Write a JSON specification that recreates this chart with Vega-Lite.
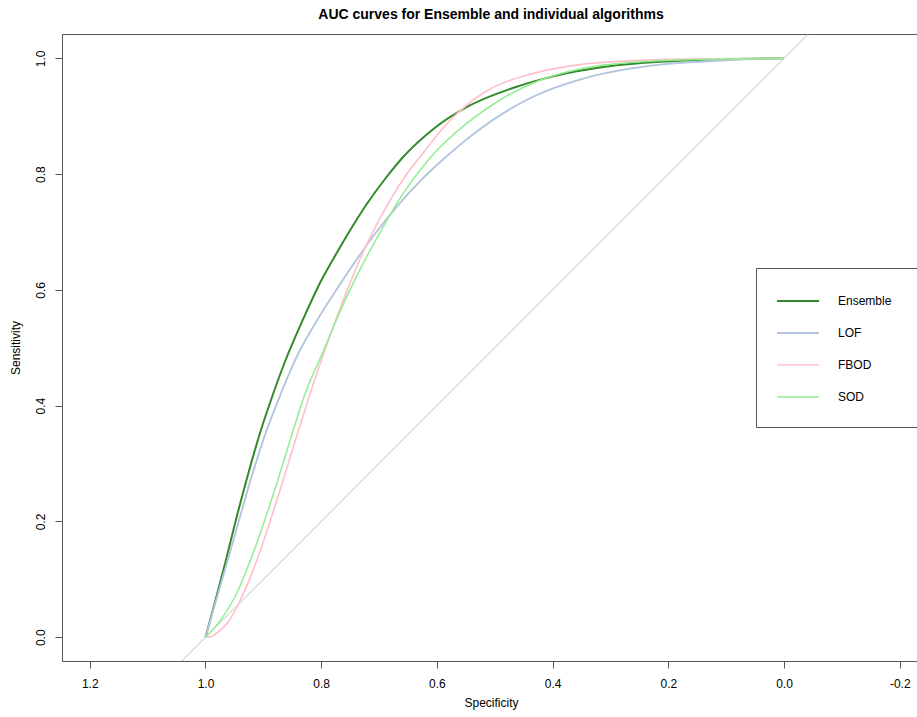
{
  "$schema": "https://vega.github.io/schema/vega-lite/v6.json",
  "autosize": {"type": "none"},
  "width": 858,
  "height": 627,
  "padding": {"left": 62, "top": 34, "right": 0, "bottom": 56},
  "background": "white",
  "title": {
    "text": "AUC curves for Ensemble and individual algorithms",
    "font": "Liberation Sans",
    "fontSize": 14,
    "fontWeight": "bold",
    "color": "black",
    "anchor": "middle",
    "offset": 12
  },
  "config": {
    "view": {"stroke": "#555555", "strokeWidth": 1},
    "font": "Liberation Sans",
    "axis": {
      "labelFont": "Liberation Sans",
      "titleFont": "Liberation Sans",
      "labelFontSize": 12,
      "titleFontSize": 12,
      "titleFontWeight": "normal",
      "labelColor": "black",
      "titleColor": "black",
      "tickColor": "#555555",
      "tickSize": 7,
      "domain": false,
      "grid": false
    }
  },
  "datasets": {
    "diag": [
      {"spec": 1.2, "sens": -0.2},
      {"spec": -0.2, "sens": 1.2}
    ],
    "curves": [
      {"model": "Ensemble", "spec": 1.0, "sens": 0.0},
      {"model": "Ensemble", "spec": 0.984, "sens": 0.059},
      {"model": "Ensemble", "spec": 0.966, "sens": 0.128},
      {"model": "Ensemble", "spec": 0.946, "sens": 0.208},
      {"model": "Ensemble", "spec": 0.926, "sens": 0.283},
      {"model": "Ensemble", "spec": 0.906, "sens": 0.352},
      {"model": "Ensemble", "spec": 0.886, "sens": 0.412},
      {"model": "Ensemble", "spec": 0.863, "sens": 0.475},
      {"model": "Ensemble", "spec": 0.831, "sens": 0.55},
      {"model": "Ensemble", "spec": 0.799, "sens": 0.618},
      {"model": "Ensemble", "spec": 0.773, "sens": 0.664},
      {"model": "Ensemble", "spec": 0.75, "sens": 0.703},
      {"model": "Ensemble", "spec": 0.72, "sens": 0.75},
      {"model": "Ensemble", "spec": 0.687, "sens": 0.795},
      {"model": "Ensemble", "spec": 0.658, "sens": 0.83},
      {"model": "Ensemble", "spec": 0.606, "sens": 0.878},
      {"model": "Ensemble", "spec": 0.548, "sens": 0.916},
      {"model": "Ensemble", "spec": 0.462, "sens": 0.951},
      {"model": "Ensemble", "spec": 0.376, "sens": 0.974},
      {"model": "Ensemble", "spec": 0.289, "sens": 0.988},
      {"model": "Ensemble", "spec": 0.214, "sens": 0.994},
      {"model": "Ensemble", "spec": 0.123, "sens": 0.998},
      {"model": "Ensemble", "spec": 0.0, "sens": 1.0},
      {"model": "LOF", "spec": 1.0, "sens": 0.0},
      {"model": "LOF", "spec": 0.983, "sens": 0.059},
      {"model": "LOF", "spec": 0.955, "sens": 0.156},
      {"model": "LOF", "spec": 0.92, "sens": 0.278},
      {"model": "LOF", "spec": 0.897, "sens": 0.35},
      {"model": "LOF", "spec": 0.874, "sens": 0.41},
      {"model": "LOF", "spec": 0.842, "sens": 0.485},
      {"model": "LOF", "spec": 0.802, "sens": 0.556},
      {"model": "LOF", "spec": 0.77, "sens": 0.606},
      {"model": "LOF", "spec": 0.739, "sens": 0.652},
      {"model": "LOF", "spec": 0.707, "sens": 0.697},
      {"model": "LOF", "spec": 0.664, "sens": 0.75},
      {"model": "LOF", "spec": 0.629, "sens": 0.788},
      {"model": "LOF", "spec": 0.592, "sens": 0.823},
      {"model": "LOF", "spec": 0.52, "sens": 0.882},
      {"model": "LOF", "spec": 0.433, "sens": 0.934},
      {"model": "LOF", "spec": 0.347, "sens": 0.965},
      {"model": "LOF", "spec": 0.261, "sens": 0.983},
      {"model": "LOF", "spec": 0.18, "sens": 0.992},
      {"model": "LOF", "spec": 0.093, "sens": 0.997},
      {"model": "LOF", "spec": 0.0, "sens": 1.0},
      {"model": "FBOD", "spec": 1.0, "sens": 0.0},
      {"model": "FBOD", "spec": 0.989, "sens": 0.002},
      {"model": "FBOD", "spec": 0.981, "sens": 0.007},
      {"model": "FBOD", "spec": 0.961, "sens": 0.026},
      {"model": "FBOD", "spec": 0.937, "sens": 0.07},
      {"model": "FBOD", "spec": 0.909, "sens": 0.139},
      {"model": "FBOD", "spec": 0.874, "sens": 0.245},
      {"model": "FBOD", "spec": 0.841, "sens": 0.352},
      {"model": "FBOD", "spec": 0.822, "sens": 0.412},
      {"model": "FBOD", "spec": 0.79, "sens": 0.506},
      {"model": "FBOD", "spec": 0.756, "sens": 0.597},
      {"model": "FBOD", "spec": 0.733, "sens": 0.653},
      {"model": "FBOD", "spec": 0.704, "sens": 0.713},
      {"model": "FBOD", "spec": 0.655, "sens": 0.796},
      {"model": "FBOD", "spec": 0.629, "sens": 0.83},
      {"model": "FBOD", "spec": 0.577, "sens": 0.893},
      {"model": "FBOD", "spec": 0.52, "sens": 0.94},
      {"model": "FBOD", "spec": 0.433, "sens": 0.974},
      {"model": "FBOD", "spec": 0.347, "sens": 0.99},
      {"model": "FBOD", "spec": 0.261, "sens": 0.996},
      {"model": "FBOD", "spec": 0.145, "sens": 0.999},
      {"model": "FBOD", "spec": 0.0, "sens": 1.0},
      {"model": "SOD", "spec": 1.0, "sens": 0.0},
      {"model": "SOD", "spec": 0.978, "sens": 0.024},
      {"model": "SOD", "spec": 0.949, "sens": 0.07},
      {"model": "SOD", "spec": 0.92, "sens": 0.139},
      {"model": "SOD", "spec": 0.886, "sens": 0.237},
      {"model": "SOD", "spec": 0.85, "sens": 0.352},
      {"model": "SOD", "spec": 0.831, "sens": 0.412},
      {"model": "SOD", "spec": 0.796, "sens": 0.495},
      {"model": "SOD", "spec": 0.762, "sens": 0.575},
      {"model": "SOD", "spec": 0.733, "sens": 0.635},
      {"model": "SOD", "spec": 0.695, "sens": 0.705},
      {"model": "SOD", "spec": 0.658, "sens": 0.767},
      {"model": "SOD", "spec": 0.612, "sens": 0.828},
      {"model": "SOD", "spec": 0.548, "sens": 0.888},
      {"model": "SOD", "spec": 0.491, "sens": 0.928},
      {"model": "SOD", "spec": 0.422, "sens": 0.962},
      {"model": "SOD", "spec": 0.347, "sens": 0.983},
      {"model": "SOD", "spec": 0.261, "sens": 0.993},
      {"model": "SOD", "spec": 0.18, "sens": 0.997},
      {"model": "SOD", "spec": 0.0, "sens": 1.0}
    ]
  },
  "layer": [
    {
      "data": {"name": "diag"},
      "mark": {"type": "line", "color": "#bebebe", "strokeWidth": 1, "clip": true},
      "encoding": {
        "x": {"field": "spec", "type": "quantitative"},
        "y": {"field": "sens", "type": "quantitative"}
      }
    },
    {
      "data": {"name": "curves"},
      "mark": {"type": "line", "interpolate": "monotone", "clip": true},
      "encoding": {
        "x": {
          "field": "spec",
          "type": "quantitative",
          "title": "Specificity",
          "scale": {"domain": [-0.235, 1.248], "reverse": true, "nice": false, "zero": false},
          "axis": {
            "values": [1.2, 1.0, 0.8, 0.6, 0.4, 0.2, 0.0, -0.2],
            "labelExpr": "datum.value < 0 ? '-' + format(-datum.value, '.1f') : format(datum.value, '.1f')",
            "labelPadding": 10,
            "titlePadding": 8,
            "labelFlush": false
          }
        },
        "y": {
          "field": "sens",
          "type": "quantitative",
          "title": "Sensitivity",
          "scale": {"domain": [-0.041, 1.042], "nice": false, "zero": false},
          "axis": {
            "values": [0.0, 0.2, 0.4, 0.6, 0.8, 1.0],
            "format": ".1f",
            "labelAngle": 270,
            "labelAlign": "center",
            "labelBaseline": "bottom",
            "labelPadding": 8,
            "titlePadding": 12,
            "labelFlush": false
          }
        },
        "order": {"field": "sens", "type": "quantitative"},
        "color": {
          "field": "model",
          "type": "nominal",
          "scale": {
            "domain": ["Ensemble", "LOF", "FBOD", "SOD"],
            "range": ["#338a2b", "#b0c4de", "#ffc0cb", "#90ee90"]
          },
          "legend": {
            "title": "WWWWWWWWWWWWWWWWWWWWWWWWWWWWWWWWWWWWWWWWWWWWWWWWWWWWWWWWWWWWWWWWWWWWWWWWWWWWWWWWWWWWWWWWWWWWWWWWWWWWWWWWWWWWWWWWWWWWWWWWWWWWWWWWWWWWWWWWWWWWWWWWWWWW",
            "titleOrient": "bottom",
            "titleFontSize": 1,
            "titleColor": "rgba(255,255,255,0)",
            "titleLimit": 1000,
            "titlePadding": 12,
            "orient": "none",
            "legendX": 694,
            "legendY": 234,
            "symbolType": "stroke",
            "symbolSize": 1764,
            "symbolStrokeWidth": 1.5,
            "labelFont": "Liberation Sans",
            "labelFontSize": 12,
            "labelColor": "black",
            "labelOffset": 18,
            "padding": 11,
            "symbolOffset": 9,
            "rowPadding": 4,
            "strokeColor": "#555555",
            "fillColor": "white",
            "cornerRadius": 0
          }
        },
        "strokeWidth": {
          "field": "model",
          "type": "nominal",
          "scale": {"domain": ["Ensemble", "LOF", "FBOD", "SOD"], "range": [2, 1.5, 1.5, 1.5]},
          "legend": null
        }
      }
    }
  ]
}
